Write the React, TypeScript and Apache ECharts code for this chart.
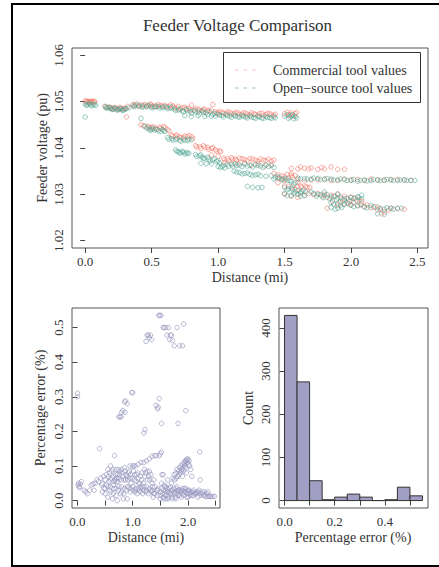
import React, { useEffect, useRef } from "react";
import * as echarts from "echarts";

// ---------- Data ----------
const titleText = "Feeder Voltage Comparison";
const legendLabels = ["Commercial tool values", "Open\u2212source tool values"];

const voltageTicks = [1.02, 1.03, 1.04, 1.05, 1.06];
const distanceTicks = [0, 0.5, 1.0, 1.5, 2.0, 2.5];
const distanceLabelsSmall = [0, 1, 2];
const errorTicks = [0, 0.1, 0.2, 0.3, 0.4, 0.5];
const histXTicks = [0, 0.1, 0.2, 0.3, 0.4, 0.5];
const histXLabels = [0, 0.2, 0.4];
const countTicks = [0, 100, 200, 300, 400];

// Commercial tool voltages [distance mi, voltage pu]
const commercialValues: [number, number][] = [
  [0, 1.0502], [0.01, 1.0501], [0.02, 1.05], [0.03, 1.0501], [0.04, 1.05], [0.05, 1.0499], [0.06, 1.05], [0.07, 1.0499],
  [0.01, 1.0499], [0.03, 1.0498], [0.05, 1.0501], [0.07, 1.0501],
  [0.15, 1.049], [0.18, 1.0488], [0.2, 1.0486], [0.22, 1.0487], [0.24, 1.0485], [0.26, 1.0488], [0.28, 1.0484], [0.3, 1.0486], [0.32, 1.049], [0.31, 1.0467],
  [0.16, 1.0488], [0.19, 1.0487], [0.21, 1.0484], [0.23, 1.0486], [0.25, 1.0483], [0.27, 1.0486], [0.29, 1.0485],
  [0.36, 1.0494], [0.39, 1.0495], [0.42, 1.0493], [0.45, 1.0494], [0.48, 1.0492], [0.5, 1.0493], [0.53, 1.0491], [0.55, 1.0494], [0.58, 1.049], [0.6, 1.0492], [0.63, 1.0489], [0.66, 1.0491],
  [0.37, 1.0491], [0.4, 1.049], [0.43, 1.0491], [0.46, 1.049], [0.49, 1.0495], [0.51, 1.049], [0.54, 1.0489], [0.57, 1.0492], [0.61, 1.0489], [0.64, 1.0493], [0.67, 1.0488],
  [0.69, 1.0486], [0.72, 1.0484], [0.75, 1.0488], [0.78, 1.0485], [0.8, 1.0493], [0.82, 1.0482], [0.85, 1.0484], [0.88, 1.048], [0.9, 1.0483], [0.93, 1.0481], [0.96, 1.0494],
  [0.7, 1.049], [0.73, 1.0487], [0.76, 1.0485], [0.79, 1.0482], [0.83, 1.0485], [0.86, 1.0481], [0.89, 1.0484], [0.92, 1.0479], [0.95, 1.0482],
  [0.98, 1.0478], [1.0, 1.0476], [1.03, 1.0477], [1.06, 1.0475], [1.09, 1.0477], [1.12, 1.0474], [1.15, 1.0476], [1.18, 1.0473], [1.21, 1.0475], [1.24, 1.0472], [1.27, 1.0474], [1.3, 1.0471], [1.33, 1.0475], [1.36, 1.0472], [1.39, 1.0474], [1.42, 1.0471],
  [0.99, 1.0475], [1.01, 1.0479], [1.04, 1.0474], [1.07, 1.0478], [1.1, 1.0473], [1.13, 1.0477], [1.16, 1.0472], [1.19, 1.0476], [1.22, 1.0471], [1.25, 1.0476], [1.28, 1.0472], [1.31, 1.0474], [1.34, 1.047], [1.37, 1.0475], [1.4, 1.0471], [1.43, 1.0473],
  [1.52, 1.0477], [1.55, 1.0476], [1.58, 1.0474], [1.53, 1.047], [1.57, 1.0469], [1.5, 1.0474], [1.54, 1.0472], [1.59, 1.0477],
  [0.42, 1.045], [0.47, 1.0447], [0.5, 1.0444], [0.53, 1.0443], [0.56, 1.0445], [0.59, 1.0446], [0.62, 1.044],
  [0.44, 1.0448], [0.48, 1.0445], [0.51, 1.0446], [0.54, 1.0441], [0.57, 1.0443], [0.6, 1.0444], [0.63, 1.0437],
  [0.65, 1.0428], [0.68, 1.0426], [0.71, 1.0424], [0.74, 1.0423], [0.77, 1.0424], [0.8, 1.0425],
  [0.66, 1.0426], [0.69, 1.0428], [0.72, 1.0422], [0.75, 1.0426], [0.78, 1.0427], [0.81, 1.0421],
  [0.83, 1.0405], [0.86, 1.0403], [0.89, 1.0405], [0.92, 1.0401], [0.95, 1.0399], [0.98, 1.0396], [1.01, 1.0394],
  [0.84, 1.0402], [0.87, 1.0399], [0.9, 1.0402], [0.93, 1.0397], [0.96, 1.0401], [0.99, 1.0393], [1.02, 1.0392],
  [1.04, 1.0378], [1.07, 1.0377], [1.1, 1.0379], [1.13, 1.0376], [1.16, 1.0378], [1.2, 1.0375], [1.24, 1.0377], [1.28, 1.0374], [1.32, 1.0376], [1.36, 1.0373], [1.4, 1.0372],
  [1.05, 1.0375], [1.08, 1.0373], [1.11, 1.0376], [1.14, 1.0373], [1.18, 1.0377], [1.22, 1.0373], [1.26, 1.0376], [1.3, 1.0372], [1.34, 1.0374], [1.38, 1.0376], [1.42, 1.0374],
  [0.95, 1.0385], [1.0, 1.0382], [1.05, 1.0368], [1.1, 1.0367], [1.2, 1.0368], [1.3, 1.0366], [1.4, 1.0364],
  [1.15, 1.0366], [1.25, 1.0363], [1.35, 1.0361],
  [1.42, 1.0345], [1.45, 1.0342], [1.48, 1.034], [1.52, 1.0343], [1.55, 1.0341], [1.55, 1.0345], [1.58, 1.034],
  [1.55, 1.0356], [1.6, 1.0355], [1.65, 1.0356], [1.7, 1.0357], [1.75, 1.0354], [1.8, 1.0355], [1.9, 1.0354], [1.95, 1.0354],
  [1.85, 1.0359], [1.78, 1.0358], [1.62, 1.0359], [1.68, 1.0355],
  [1.5, 1.0318], [1.53, 1.0317], [1.56, 1.0316], [1.6, 1.0317], [1.63, 1.0316], [1.66, 1.0317], [1.69, 1.0315], [1.62, 1.0318], [1.67, 1.0315],
  [1.45, 1.0335], [1.48, 1.0333], [1.5, 1.0338], [1.53, 1.0335], [1.56, 1.0337], [1.6, 1.0326], [1.65, 1.0329],
  [1.58, 1.031], [1.62, 1.0305], [1.68, 1.0302], [1.72, 1.0299], [1.78, 1.0296], [1.82, 1.0293], [1.88, 1.0296], [1.93, 1.0291], [1.98, 1.0289], [2.03, 1.0292], [2.06, 1.0288], [2.08, 1.0285],
  [1.75, 1.0302], [1.8, 1.03], [1.85, 1.0298], [1.9, 1.0301], [1.95, 1.0296], [2.0, 1.0294],
  [1.86, 1.0285], [1.92, 1.0283], [1.98, 1.028], [2.02, 1.0282], [2.08, 1.0279], [2.12, 1.0277], [2.18, 1.0273], [2.22, 1.027], [2.28, 1.0266], [2.23, 1.0258],
  [1.82, 1.027], [1.9, 1.0276], [1.95, 1.028], [2.0, 1.0278], [2.05, 1.0276], [2.1, 1.0273], [2.15, 1.0271], [2.2, 1.0266], [2.25, 1.0262], [2.3, 1.027], [2.35, 1.0269], [2.4, 1.0268],
  [1.6, 1.0332], [1.7, 1.0331], [1.8, 1.0333], [1.9, 1.033], [2.0, 1.0331], [2.1, 1.033], [2.2, 1.0331], [2.3, 1.0332], [2.45, 1.033],
  [1.75, 1.0331], [1.85, 1.033], [1.95, 1.0333], [2.05, 1.0332], [2.15, 1.0333], [2.25, 1.0331], [2.35, 1.0332], [2.4, 1.0331],
  [1.5, 1.03], [1.55, 1.0296], [1.6, 1.0293], [1.65, 1.0298], [1.45, 1.0325], [1.5, 1.033],
];

// Open-source tool voltages [distance mi, voltage pu]
const openSourceValues: [number, number][] = [
  [0, 1.0495], [0.02, 1.0494], [0.04, 1.0493], [0.06, 1.0494], [0.08, 1.0492], [0, 1.0467],
  [0.01, 1.0492], [0.03, 1.0496], [0.05, 1.0491], [0.07, 1.0494],
  [0.15, 1.0489], [0.17, 1.0487], [0.19, 1.0486], [0.21, 1.0484], [0.23, 1.0485], [0.25, 1.0483], [0.27, 1.0484], [0.29, 1.0482], [0.31, 1.0485], [0.33, 1.0487],
  [0.16, 1.0486], [0.18, 1.0488], [0.2, 1.0483], [0.22, 1.0486], [0.24, 1.0482], [0.26, 1.0485], [0.28, 1.0481], [0.3, 1.0484],
  [0.36, 1.0491], [0.38, 1.0493], [0.41, 1.049], [0.44, 1.0491], [0.46, 1.0489], [0.49, 1.049], [0.52, 1.0488], [0.55, 1.049], [0.58, 1.0487], [0.61, 1.0488], [0.64, 1.0486], [0.67, 1.0484], [0.42, 1.0464],
  [0.37, 1.0489], [0.4, 1.0492], [0.43, 1.0488], [0.47, 1.0492], [0.5, 1.0487], [0.53, 1.049], [0.56, 1.0486], [0.59, 1.0489], [0.62, 1.0485], [0.65, 1.0488],
  [0.7, 1.0482], [0.73, 1.048], [0.76, 1.0483], [0.79, 1.0479], [0.82, 1.0481], [0.85, 1.0478], [0.88, 1.048], [0.91, 1.0476], [0.94, 1.0478], [0.97, 1.0475],
  [0.68, 1.0481], [0.71, 1.0484], [0.74, 1.0478], [0.77, 1.0481], [0.8, 1.0475], [0.83, 1.0478], [0.86, 1.0474], [0.89, 1.0477], [0.92, 1.0472], [0.96, 1.0472],
  [0.75, 1.047], [0.8, 1.0468], [0.85, 1.047], [0.9, 1.0468], [0.95, 1.0469],
  [1.0, 1.0473], [1.03, 1.047], [1.06, 1.0472], [1.09, 1.0469], [1.12, 1.0471], [1.15, 1.0468], [1.18, 1.047], [1.21, 1.0467], [1.24, 1.0469], [1.27, 1.0466], [1.3, 1.0468], [1.33, 1.0465], [1.36, 1.0468], [1.39, 1.0466], [1.42, 1.0467],
  [0.98, 1.0469], [1.01, 1.0471], [1.04, 1.0467], [1.07, 1.047], [1.1, 1.0466], [1.13, 1.0469], [1.16, 1.0466], [1.19, 1.0468], [1.22, 1.0465], [1.25, 1.0467], [1.28, 1.0464], [1.31, 1.0467], [1.34, 1.0464], [1.37, 1.0466], [1.4, 1.0464], [1.43, 1.0465],
  [1.52, 1.0472], [1.55, 1.047], [1.58, 1.0468], [1.53, 1.0464], [1.57, 1.0463], [1.5, 1.0469], [1.54, 1.0467], [1.56, 1.0472], [1.59, 1.0465],
  [0.45, 1.0447], [0.48, 1.0441], [0.5, 1.044], [0.52, 1.0439], [0.55, 1.0437], [0.58, 1.044], [0.6, 1.0436],
  [0.46, 1.0443], [0.49, 1.0438], [0.51, 1.0442], [0.54, 1.044], [0.57, 1.0436], [0.59, 1.0438],
  [0.62, 1.0422], [0.65, 1.042], [0.68, 1.0418], [0.71, 1.0417], [0.74, 1.0419], [0.77, 1.0416], [0.8, 1.0418],
  [0.63, 1.0419], [0.66, 1.0417], [0.69, 1.0421], [0.72, 1.0415], [0.75, 1.0417], [0.78, 1.0419],
  [0.68, 1.0396], [0.7, 1.0392], [0.72, 1.039], [0.74, 1.0391], [0.76, 1.0389], [0.78, 1.0388],
  [0.69, 1.0393], [0.71, 1.0389], [0.73, 1.0393], [0.75, 1.0387], [0.77, 1.039],
  [0.83, 1.0386], [0.86, 1.0383], [0.88, 1.038], [0.9, 1.0378], [0.93, 1.0376], [0.96, 1.0374], [0.99, 1.037], [1.01, 1.0368],
  [0.84, 1.0382], [0.87, 1.0385], [0.89, 1.0377], [0.92, 1.038], [0.94, 1.0372], [0.97, 1.0377], [1.0, 1.0372],
  [0.87, 1.0367], [0.91, 1.0366], [0.95, 1.0366],
  [1.0, 1.036], [1.02, 1.0358], [1.04, 1.0362], [1.07, 1.0365], [1.1, 1.0364], [1.13, 1.0366], [1.16, 1.0363], [1.2, 1.0365], [1.24, 1.0362], [1.28, 1.0364], [1.32, 1.0361], [1.36, 1.0363], [1.4, 1.0362],
  [1.03, 1.036], [1.05, 1.0357], [1.08, 1.0361], [1.11, 1.0361], [1.14, 1.0362], [1.18, 1.036], [1.22, 1.0361], [1.26, 1.0359], [1.3, 1.0362], [1.34, 1.0358], [1.38, 1.036], [1.42, 1.0358],
  [1.12, 1.035], [1.16, 1.0347], [1.2, 1.0345], [1.24, 1.0343], [1.28, 1.0342], [1.32, 1.034],
  [1.14, 1.0348], [1.18, 1.0344], [1.22, 1.0346], [1.26, 1.0341], [1.3, 1.0343], [1.36, 1.0339],
  [1.22, 1.0317], [1.26, 1.0315], [1.3, 1.0314], [1.33, 1.0315],
  [1.4, 1.034], [1.43, 1.0337], [1.46, 1.0335], [1.49, 1.0333], [1.52, 1.033], [1.55, 1.0327], [1.58, 1.0325],
  [1.42, 1.0333], [1.45, 1.0338], [1.48, 1.0331], [1.51, 1.0334], [1.54, 1.033], [1.57, 1.0322],
  [1.6, 1.0335], [1.65, 1.0334], [1.7, 1.0333], [1.75, 1.0334], [1.8, 1.0332], [1.85, 1.0333], [1.9, 1.0331], [1.95, 1.0332], [2.0, 1.033], [2.05, 1.0328], [2.1, 1.0331], [2.15, 1.033], [2.2, 1.0331], [2.25, 1.033], [2.3, 1.0331], [2.35, 1.033], [2.4, 1.0331], [2.45, 1.033], [2.48, 1.033],
  [1.62, 1.0334], [1.67, 1.0333], [1.72, 1.0335], [1.77, 1.0332], [1.82, 1.0334], [1.87, 1.0331], [1.92, 1.0333], [1.97, 1.033], [2.02, 1.0332], [2.07, 1.033], [2.12, 1.0329], [2.17, 1.0332], [2.22, 1.033], [2.27, 1.0332], [2.32, 1.033], [2.37, 1.0331], [2.42, 1.033],
  [1.5, 1.0315], [1.53, 1.0312], [1.56, 1.031], [1.6, 1.0308], [1.63, 1.0306], [1.66, 1.0305], [1.5, 1.0302], [1.55, 1.0298], [1.6, 1.03], [1.65, 1.0297],
  [1.52, 1.031], [1.55, 1.0313], [1.58, 1.0305], [1.62, 1.0302], [1.64, 1.0309], [1.52, 1.0297], [1.57, 1.0301], [1.62, 1.0296],
  [1.7, 1.0305], [1.75, 1.03], [1.8, 1.0297], [1.85, 1.0294], [1.9, 1.0292], [1.95, 1.029], [2.0, 1.0293], [2.05, 1.0295], [2.08, 1.0298], [1.8, 1.0305], [1.9, 1.03],
  [1.72, 1.0302], [1.74, 1.0296], [1.77, 1.0299], [1.79, 1.0293], [1.82, 1.0299], [1.84, 1.029], [1.87, 1.0296], [1.89, 1.0288], [1.92, 1.0294], [1.94, 1.0286], [1.97, 1.0292], [1.99, 1.0285], [2.02, 1.0291], [2.04, 1.0287], [2.06, 1.0293], [2.08, 1.029],
  [1.85, 1.0282], [1.9, 1.028], [1.95, 1.0278], [2.0, 1.0276], [2.05, 1.0275], [2.1, 1.0273], [2.15, 1.0276], [2.2, 1.0272], [2.25, 1.0268], [2.3, 1.027], [2.35, 1.027], [2.2, 1.0258], [2.25, 1.0257],
  [1.87, 1.0279], [1.92, 1.0276], [1.97, 1.0281], [2.02, 1.0273], [2.07, 1.0277], [2.12, 1.0271], [2.17, 1.0272], [2.22, 1.0268], [2.27, 1.0271], [2.32, 1.0268], [2.38, 1.027],
  [1.85, 1.0272], [1.9, 1.027], [1.88, 1.0268], [1.93, 1.0272],
];

// Percentage error [distance mi, error %]
const errorValues: [number, number][] = [
  [0, 0.31], [0, 0.3], [0.01, 0.045], [0.02, 0.05], [0.03, 0.04], [0.05, 0.048], [0.04, 0.038], [0.07, 0.055], [0.12, 0.03], [0.15, 0.025], [0.18, 0.02], [0.22, 0.03],
  [0.25, 0.045], [0.28, 0.048], [0.3, 0.03], [0.32, 0.05], [0.35, 0.06], [0.38, 0.055], [0.4, 0.15], [0.42, 0.065], [0.44, 0.045], [0.45, 0.025], [0.47, 0.07],
  [0.5, 0.06], [0.5, 0.02], [0.52, 0.075], [0.55, 0.09], [0.55, 0.01], [0.57, 0.055], [0.58, 0.03], [0.6, 0.1], [0.6, 0.04], [0.62, 0.085], [0.63, 0.005],
  [0.65, 0.07], [0.65, 0.02], [0.67, 0.13], [0.68, 0.06], [0.7, 0.09], [0.7, 0.035], [0.72, 0.0], [0.72, 0.075], [0.75, 0.242], [0.77, 0.242], [0.79, 0.242],
  [0.75, 0.065], [0.77, 0.085], [0.78, 0.02], [0.8, 0.255], [0.82, 0.26], [0.8, 0.09], [0.8, 0.04], [0.82, 0.07], [0.83, 0.005], [0.85, 0.285], [0.87, 0.288],
  [0.9, 0.28], [0.86, 0.255], [0.85, 0.095], [0.87, 0.06], [0.88, 0.03], [0.9, 0.07], [0.9, 0.005], [0.92, 0.08], [0.93, 0.04], [0.95, 0.065], [0.95, 0.1],
  [0.97, 0.05], [0.98, 0.312], [1.0, 0.312], [1.0, 0.1], [1.0, 0.03], [1.02, 0.1], [1.03, 0.06], [1.05, 0.1], [1.05, 0.03], [1.07, 0.075], [1.08, 0.02],
  [1.1, 0.105], [1.1, 0.065], [1.12, 0.03], [1.13, 0.05], [1.15, 0.11], [1.15, 0.04], [1.17, 0.08], [1.18, 0.02], [1.2, 0.195], [1.22, 0.205], [1.2, 0.11],
  [1.2, 0.03], [1.22, 0.07], [1.24, 0.46], [1.26, 0.478], [1.28, 0.478], [1.3, 0.47], [1.32, 0.478], [1.34, 0.465], [1.25, 0.115], [1.25, 0.04], [1.27, 0.06],
  [1.28, 0.02], [1.3, 0.12], [1.3, 0.085], [1.32, 0.03], [1.35, 0.128], [1.35, 0.05], [1.37, 0.01], [1.38, 0.02], [1.4, 0.13], [1.42, 0.275], [1.45, 0.265],
  [1.46, 0.27], [1.4, 0.04], [1.42, 0.13], [1.44, 0.015], [1.46, 0.035], [1.48, 0.295], [1.47, 0.535], [1.49, 0.535], [1.51, 0.535], [1.48, 0.13], [1.5, 0.135],
  [1.52, 0.223], [1.52, 0.14], [1.5, 0.005], [1.5, 0.025], [1.52, 0.05], [1.53, 0.075], [1.55, 0.075], [1.55, 0.5], [1.57, 0.5], [1.6, 0.5], [1.62, 0.478],
  [1.55, 0.01], [1.56, 0.03], [1.57, 0.045], [1.58, 0.02], [1.6, 0.005], [1.6, 0.04], [1.62, 0.025], [1.63, 0.06], [1.65, 0.5], [1.67, 0.465], [1.68, 0.478],
  [1.7, 0.478], [1.72, 0.463], [1.65, 0.01], [1.66, 0.035], [1.68, 0.02], [1.7, 0.05], [1.7, 0.01], [1.72, 0.03], [1.73, 0.065], [1.75, 0.447], [1.75, 0.075],
  [1.75, 0.025], [1.77, 0.01], [1.78, 0.08], [1.78, 0.035], [1.8, 0.5], [1.8, 0.09], [1.8, 0.02], [1.82, 0.223], [1.83, 0.085], [1.83, 0.03], [1.85, 0.447],
  [1.85, 0.095], [1.85, 0.015], [1.87, 0.1], [1.88, 0.03], [1.9, 0.447], [1.9, 0.105], [1.9, 0.07], [1.9, 0.02], [1.92, 0.51], [1.93, 0.11], [1.93, 0.035],
  [1.95, 0.115], [1.95, 0.025], [1.96, 0.26], [1.97, 0.08], [1.98, 0.12], [1.98, 0.01], [2.0, 0.12], [2.0, 0.03], [2.02, 0.115], [2.02, 0.02], [2.05, 0.09],
  [2.05, 0.025], [2.07, 0.07], [2.08, 0.015], [2.1, 0.03], [2.12, 0.02], [2.15, 0.025], [2.18, 0.01], [2.2, 0.03], [2.21, 0.141], [2.22, 0.06], [2.25, 0.02],
  [2.28, 0.015], [2.3, 0.025], [2.32, 0.012], [2.35, 0.012], [2.38, 0.012], [2.4, 0.012], [2.42, 0.012], [2.45, 0.012], [2.48, 0.012], [2.36, 0.025],
  [0.6, 0.06], [0.65, 0.045], [0.7, 0.055], [0.75, 0.04], [0.85, 0.035], [0.95, 0.035], [1.05, 0.035], [1.15, 0.035], [1.25, 0.03], [1.35, 0.03], [1.45, 0.03],
  [1.6, 0.028], [1.7, 0.028], [1.8, 0.028], [1.9, 0.028], [2.0, 0.025], [2.1, 0.025], [2.2, 0.022],
  [1.5, 0.015], [1.52, 0.035], [1.54, 0.02], [1.56, 0.005], [1.58, 0.04], [1.6, 0.015], [1.62, 0.035], [1.64, 0.005], [1.66, 0.025], [1.68, 0.04], [1.7, 0.02],
  [1.72, 0.005], [1.74, 0.035], [1.76, 0.02], [1.78, 0.005], [1.8, 0.04], [1.82, 0.015], [1.84, 0.03], [1.86, 0.025], [1.88, 0.01], [1.9, 0.035], [1.92, 0.015],
  [1.94, 0.025], [1.96, 0.035], [1.98, 0.02], [2.0, 0.01], [2.02, 0.03], [2.04, 0.015], [2.06, 0.025], [2.1, 0.015], [2.14, 0.02], [2.18, 0.025], [2.22, 0.015],
  [2.26, 0.025], [2.3, 0.015], [2.34, 0.02],
  [1.76, 0.06], [1.79, 0.065], [1.82, 0.07], [1.84, 0.075], [1.86, 0.08], [1.88, 0.085], [1.89, 0.09], [1.91, 0.095], [1.92, 0.085], [1.94, 0.1], [1.95, 0.105],
  [1.96, 0.095], [1.99, 0.11], [2.01, 0.105], [2.03, 0.1], [1.97, 0.115],
  [0.45, 0.05], [0.48, 0.035], [0.53, 0.045], [0.56, 0.07], [0.58, 0.08], [0.61, 0.065], [0.64, 0.09], [0.66, 0.055], [0.69, 0.075], [0.71, 0.065], [0.73, 0.055],
  [0.74, 0.09], [0.76, 0.075], [0.79, 0.06], [0.81, 0.08], [0.84, 0.06], [0.86, 0.085], [0.88, 0.075], [0.91, 0.06], [0.94, 0.085], [0.96, 0.075], [0.99, 0.065],
  [1.01, 0.085], [1.04, 0.075], [1.06, 0.055], [1.09, 0.08], [1.11, 0.05], [1.14, 0.07], [1.16, 0.06], [1.19, 0.05], [1.21, 0.09], [1.23, 0.08], [1.26, 0.085],
  [1.29, 0.07], [1.31, 0.06], [1.33, 0.075], [1.36, 0.04], [1.38, 0.06],
  [0.5, 0.035], [0.55, 0.04], [0.6, 0.025], [0.66, 0.035], [0.7, 0.015], [0.74, 0.03], [0.8, 0.025], [0.84, 0.02], [0.9, 0.04], [0.96, 0.025], [1.0, 0.04],
  [1.04, 0.025], [1.1, 0.035], [1.14, 0.025], [1.2, 0.04], [1.24, 0.025], [1.3, 0.035], [1.34, 0.025], [1.4, 0.02], [1.44, 0.03],
];

// Histogram of percentage error
const binStarts = [0, 0.05, 0.1, 0.15, 0.2, 0.25, 0.3, 0.35, 0.4, 0.45, 0.5];
const binWidth = 0.05;
const binCounts = [429, 275, 46, 2, 8, 15, 8, 0, 2, 31, 11];

// ---------- Styling ----------
const FONT = "Liberation Serif, DejaVu Serif, serif";
const RED = "rgba(244,118,104,0.85)";
const TEAL = "rgba(82,166,146,0.85)";
const LAV = "#9c9ac2";
const BOX = "#555";
const TXT = "#333";

function valueAxis(gridIndex: number, min: number, max: number, ticks: number[], labels: number[], digits: number, rotate: number, margin: number) {
  return {
    type: "value",
    gridIndex,
    min,
    max,
    splitLine: { show: false },
    axisLine: { show: false },
    axisTick: { show: true, inside: false, length: 5, customValues: ticks, lineStyle: { color: "#444", width: 1 } },
    axisLabel: {
      show: true,
      customValues: labels,
      rotate,
      margin,
      color: TXT,
      fontFamily: FONT,
      fontSize: 13,
      formatter: (v: number) => (digits === 0 ? String(Math.round(v)) : v.toFixed(digits)),
    },
  };
}

function textEl(text: string, x: number, y: number, size: number, rot = 0) {
  return {
    type: "text",
    x,
    y,
    rotation: rot,
    style: { text, fontFamily: FONT, fontSize: size, fill: TXT, align: "center", verticalAlign: "middle" },
  };
}

export default function App() {
  const ref = useRef<HTMLDivElement>(null);
  useEffect(() => {
    if (!ref.current) return;
    const chart = echarts.init(ref.current, null, { renderer: "svg" });
    const hollow = (c: string) => ({ color: "rgba(0,0,0,0)", borderColor: c, borderWidth: 0.9 });
    chart.setOption({
      animation: false,
      backgroundColor: "#fff",
      textStyle: { fontFamily: FONT },
      grid: [
        { left: 72, top: 48, width: 356, height: 200, show: true, borderColor: BOX, borderWidth: 1, backgroundColor: "transparent" },
        { left: 72, top: 308, width: 148, height: 200, show: true, borderColor: BOX, borderWidth: 1, backgroundColor: "transparent" },
        { left: 279, top: 308, width: 149, height: 200, show: true, borderColor: BOX, borderWidth: 1, backgroundColor: "transparent" },
      ],
      xAxis: [
        valueAxis(0, -0.099, 2.579, distanceTicks, distanceTicks, 1, 0, 7),
        valueAxis(1, -0.099, 2.579, distanceTicks, distanceLabelsSmall, 1, 0, 7),
        valueAxis(2, -0.022, 0.572, histXTicks, histXLabels, 1, 0, 7),
      ],
      yAxis: [
        valueAxis(0, 1.0184, 1.0616, voltageTicks, voltageTicks, 2, 90, 7),
        valueAxis(1, -0.0214, 0.5564, errorTicks, errorTicks, 1, 90, 7),
        valueAxis(2, -17.2, 446.2, countTicks, countTicks, 0, 90, 7),
      ],
      series: [
        { type: "scatter", name: legendLabels[0], xAxisIndex: 0, yAxisIndex: 0, symbol: "circle", symbolSize: 4.5, itemStyle: hollow(RED), data: commercialValues },
        { type: "scatter", name: legendLabels[1], xAxisIndex: 0, yAxisIndex: 0, symbol: "circle", symbolSize: 4.5, itemStyle: hollow(TEAL), data: openSourceValues },
        { type: "scatter", xAxisIndex: 1, yAxisIndex: 1, symbol: "circle", symbolSize: 4.5, itemStyle: hollow(LAV), data: errorValues },
        {
          type: "custom",
          xAxisIndex: 2,
          yAxisIndex: 2,
          data: binStarts.map((s, i) => [s, binCounts[i]]),
          renderItem: (params: any, api: any) => {
            const s = api.value(0);
            const c = api.value(1);
            const p0 = api.coord([s, 0]);
            const p1 = api.coord([s + binWidth, c]);
            return {
              type: "rect",
              shape: { x: p0[0], y: p1[1], width: p1[0] - p0[0], height: p0[1] - p1[1] },
              style: { fill: "#a19fc3", stroke: "#333", lineWidth: 1 },
            };
          },
        },
      ],
      graphic: [
        { type: "rect", shape: { x: 12, y: 4, width: 440, height: 562 }, style: { fill: "none", stroke: "#000", lineWidth: 2 } },
        textEl(titleText, 237.5, 25, 17),
        textEl("Distance (mi)", 250, 277, 14),
        textEl("Feeder voltage (pu)", 42, 148, 14, Math.PI / 2),
        textEl("Distance (mi)", 146, 537, 14),
        textEl("Percentage error (%)", 40, 408, 14, Math.PI / 2),
        textEl("Percentage error (%)", 353, 537, 14),
        textEl("Count", 248, 408, 14, Math.PI / 2),
        { type: "rect", shape: { x: 223.5, y: 52.5, width: 197, height: 50 }, style: { fill: "#fff", stroke: "#333", lineWidth: 1 } },
        { type: "line", shape: { x1: 235, y1: 70, x2: 256, y2: 70 }, style: { stroke: "rgba(244,118,104,0.45)", lineWidth: 1, lineDash: [3.5, 5] } },
        { type: "line", shape: { x1: 235, y1: 88, x2: 256, y2: 88 }, style: { stroke: "rgba(82,166,146,0.6)", lineWidth: 1, lineDash: [3.5, 5] } },
        { type: "text", x: 273, y: 70, style: { text: legendLabels[0], fontFamily: FONT, fontSize: 14, fill: TXT, align: "left", verticalAlign: "middle" } },
        { type: "text", x: 273, y: 88, style: { text: legendLabels[1], fontFamily: FONT, fontSize: 14, fill: TXT, align: "left", verticalAlign: "middle" } },
      ],
    });
    return () => chart.dispose();
  }, []);
  return <div ref={ref} style={{ position: "fixed", left: 0, top: 0, width: 439, height: 567 }} />;
}
